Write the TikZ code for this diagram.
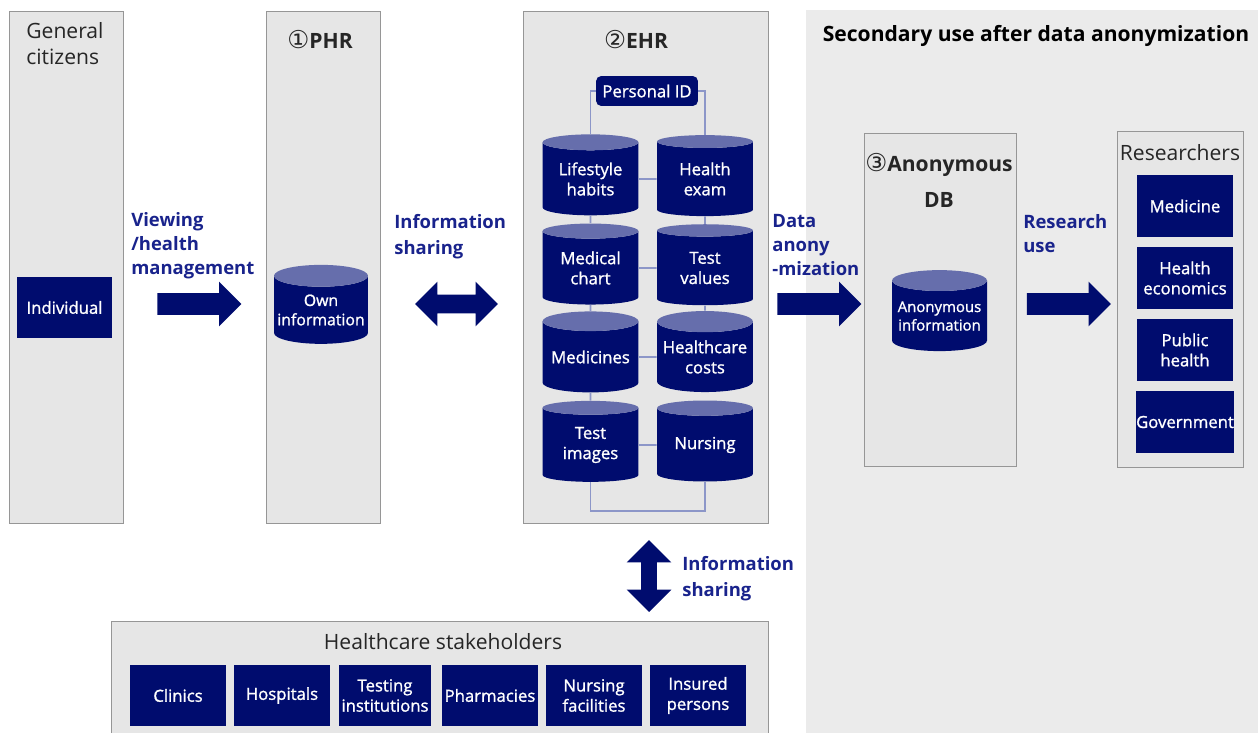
\documentclass[tikz,border=0pt]{standalone}
\usepackage{fontspec}
\setmainfont{Open Sans}
\newfontfamily\circfont{DejaVu Sans}
\newfontfamily\semib{Open Sans}[FakeBold=1.2]
\usetikzlibrary{positioning, shapes.geometric, shapes.arrows}
\definecolor{navy}{RGB}{0,12,110}
\definecolor{navytop}{RGB}{102,110,172}
\definecolor{panelgray}{RGB}{230,230,230}
\definecolor{panelline}{RGB}{150,150,150}
\definecolor{secgray}{RGB}{235,235,235}
\definecolor{labelblue}{RGB}{25,35,140}
\definecolor{linkgray}{RGB}{140,150,200}

\tikzset{
  panel/.style={draw=panelline, fill=panelgray, line width=0.8pt, anchor=north west, inner sep=0},
  paneltitle/.style={font=\fontsize{12}{20}\selectfont, text=black!85, align=center, inner sep=0},
  darkbox/.style={fill=navy, text=white, align=center, inner sep=0,
    font=\semib\fontsize{9.5}{11.5}\selectfont, minimum width=1.92cm, minimum height=1.22cm},
  dbcyl/.style={cylinder, shape border rotate=90, aspect=0.25, draw=none,
    cylinder uses custom fill, cylinder body fill=navy, cylinder end fill=navytop,
    text=white, align=center, inner sep=0, font=\semib\fontsize{9.5}{11.5}\selectfont,
    minimum width=1.92cm, minimum height=1.62cm},
  bigarrow/.style={single arrow, fill=navy, draw=none, inner sep=0, text height=0.42cm,
    text depth=0cm, single arrow head extend=0.23cm, minimum height=1.68cm},
  twoarrow/.style={double arrow, fill=navy, draw=none, inner sep=0, text depth=0cm},
  flowlabel/.style={font=\bfseries\fontsize{10.5}{13.7}\selectfont, text=labelblue, align=left,
    anchor=north west, inner sep=0},
  link/.style={draw=linkgray, line width=0.9pt}
}

\begin{document}
\begin{tikzpicture}[x=0.02cm, y=-0.02cm]
    \useasboundingbox (0,0) rectangle (1258,733);

    % grey area for the secondary use part
    \fill[secgray] (806,10) rectangle (1258,733);
    \node[font=\bfseries\fontsize{12}{14}\selectfont, inner sep=0] (sectitle) at (1036,36) {Secondary use after data anonymization};

    % the big panels
    \node[panel, minimum width=2.28cm, minimum height=10.24cm] (citizens) at (9,11) {};
    \node[panel, minimum width=2.28cm, minimum height=10.24cm] (phr) at (266,11) {};
    \node[panel, minimum width=4.9cm, minimum height=10.24cm] (ehr) at (523,11) {};
    \node[panel, minimum width=3.04cm, minimum height=6.66cm] (anondb) at (864,133) {};
    \node[panel, minimum width=2.52cm, minimum height=6.72cm] (researchers) at (1117,131) {};
    \node[panel, minimum width=13.14cm, minimum height=2.5cm] (stakeholders) at (111,621) {};

    % panel titles
    \node[paneltitle, align=left, anchor=north west, font=\fontsize{12}{15}\selectfont] (citizenstitle) at (26,22) {General\\citizens};
    \node[paneltitle, font=\bfseries\fontsize{12}{14}\selectfont] (phrtitle) at (320,40) {{\circfont\mdseries\fontsize{14}{14}\selectfont ①}PHR};
    \node[paneltitle, font=\bfseries\fontsize{12}{14}\selectfont] (ehrtitle) at (636,40) {{\circfont\mdseries\fontsize{14}{14}\selectfont ②}EHR};
    \node[paneltitle, font=\bfseries\fontsize{12}{20.5}\selectfont] (anontitle) at (939,180) {{\circfont\mdseries\fontsize{14}{14}\selectfont ③}Anonymous\\DB};
    \node[paneltitle] (restitle) at (1180,153) {Researchers};
    \node[paneltitle] (stktitle) at (443,642) {Healthcare stakeholders};

    % general citizens
    \node[darkbox, minimum width=1.9cm] (individual) at (64.5,307.5) {Individual};

    % PHR
    \node[dbcyl, font=\semib\fontsize{9}{11}\selectfont, minimum width=1.88cm, minimum height=1.58cm] (owninfo) at (321,310) {Own\\information};

    % EHR
    \node[darkbox, minimum width=2.04cm, minimum height=0.6cm, rounded corners=3pt] (pid) at (647,91) {Personal ID};
    \node[dbcyl] (lifestyle) at (590.5,179) {Lifestyle\\habits};
    \node[dbcyl] (healthexam) at (705,179) {Health\\exam};
    \node[dbcyl] (chart) at (590.5,268) {Medical\\chart};
    \node[dbcyl] (testval) at (705,268) {Test\\values};
    \node[dbcyl] (medicines) at (590.5,357) {Medicines};
    \node[dbcyl] (costs) at (705,357) {Healthcare\\costs};
    \node[dbcyl] (testimg) at (590.5,445) {Test\\images};
    \node[dbcyl] (nursing) at (705,445) {Nursing};

    % links between the EHR records
    \draw[link] (pid.west) -| (lifestyle.north);
    \draw[link] (pid.east) -| (healthexam.north);
    \draw[link] (lifestyle) -- (healthexam);
    \draw[link] (chart) -- (testval);
    \draw[link] (medicines) -- (costs);
    \draw[link] (testimg) -- (nursing);
    \draw[link] (lifestyle.south) -- (chart.north);
    \draw[link] (healthexam.south) -- (testval.north);
    \draw[link] (chart.south) -- (medicines.north);
    \draw[link] (testval.south) -- (costs.north);
    \draw[link] (medicines.south) -- (testimg.north);
    \draw[link] (testimg.south) -- ++(0,29) -| (nursing.south);

    % anonymous DB
    \node[dbcyl, font=\semib\fontsize{8.5}{10.5}\selectfont, minimum width=1.9cm] (anoninfo) at (939.5,316) {Anonymous\\information};

    % researchers
    \node[darkbox, minimum height=1.24cm] (medicine) at (1185,206) {Medicine};
    \node[darkbox, minimum height=1.24cm] (healtheco) at (1185,278) {Health\\economics};
    \node[darkbox, minimum height=1.24cm] (publichealth) at (1185,350) {Public\\health};
    \node[darkbox, minimum height=1.24cm] (government) at (1185,422) {Government};

    % healthcare stakeholders
    \node[darkbox] (clinics) at (178,695.5) {Clinics};
    \node[darkbox] (hospitals) at (282,695.5) {Hospitals};
    \node[darkbox, minimum width=1.86cm] (testing) at (385,695.5) {Testing\\institutions};
    \node[darkbox] (pharmacies) at (490,695.5) {Pharmacies};
    \node[darkbox] (nursingfac) at (594,695.5) {Nursing\\facilities};
    \node[darkbox] (insured) at (698,695.5) {Insured\\persons};

    % block arrows and their labels
    \node[bigarrow] (arrview) at (194,304) {};
    \node[flowlabel] (lblview) at (131,212) {Viewing\\/health\\management};
    \node[twoarrow, text height=0.36cm, double arrow head extend=0.26cm, minimum height=1.66cm] (arrshare) at (456.5,304) {};
    \node[flowlabel, font=\bfseries\fontsize{10.5}{14.8}\selectfont] (lblshare) at (394,214) {Information\\sharing};
    \node[bigarrow] (arranon) at (814,304) {};
    \node[flowlabel] (lblanon) at (772,214) {Data\\anony\\-mization};
    \node[bigarrow] (arrres) at (1063.5,304) {};
    \node[flowlabel] (lblres) at (1023,214) {Research\\use};
    \node[twoarrow, rotate=90, text height=0.3cm, double arrow head extend=0.29cm, minimum height=1.44cm] (arrstk) at (649,576) {};
    \node[flowlabel, font=\bfseries\fontsize{10.5}{14.8}\selectfont] (lblstk) at (682,556) {Information\\sharing};
\end{tikzpicture}
\end{document}
